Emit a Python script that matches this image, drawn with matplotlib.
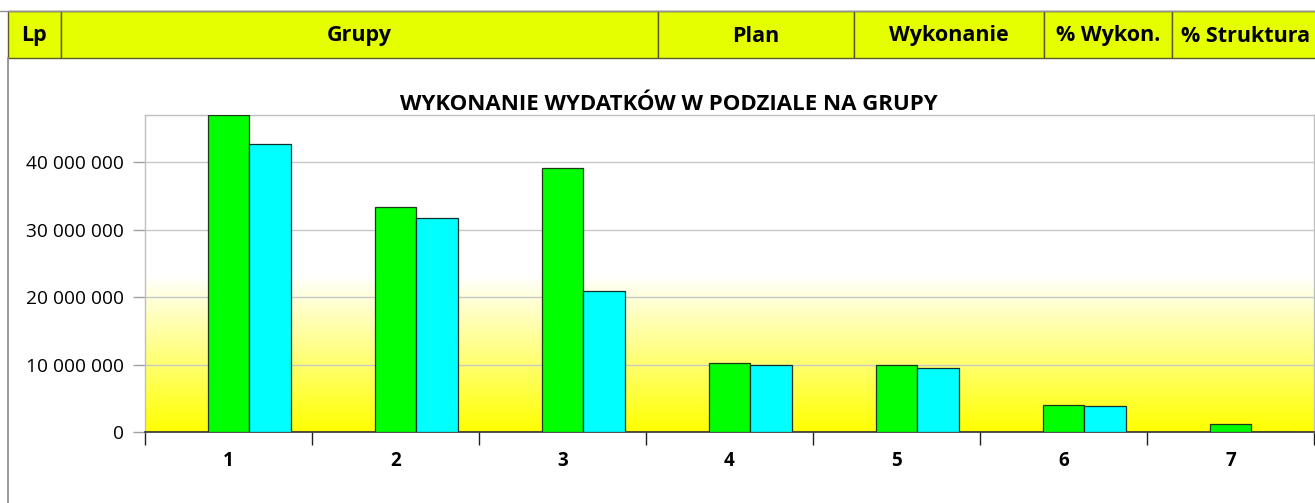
import matplotlib
matplotlib.use("Agg")
import matplotlib.pyplot as plt
import numpy as np
from matplotlib.patches import Rectangle
from matplotlib.lines import Line2D
from matplotlib.ticker import FuncFormatter, FixedLocator

# ---- data ----
categories = ["1", "2", "3", "4", "5", "6", "7"]
plan = [47.0e6, 33.4e6, 39.2e6, 10.2e6, 9.9e6, 4.0e6, 1.2e6]
wykonanie = [42.7e6, 31.75e6, 20.9e6, 9.9e6, 9.5e6, 3.9e6, 0.05e6]
header_labels = ["Lp", "Grupy", "Plan", "Wykonanie", "% Wykon.", "% Struktura"]
title = "WYKONANIE WYDATKÓW W PODZIALE NA GRUPY"

W, H = 1315, 503
FONT = ["Open Sans", "DejaVu Sans"]
plt.rcParams['font.family'] = FONT

fig = plt.figure(figsize=(W / 100, H / 100), dpi=100)
fig.patch.set_facecolor("white")

def fx(x):
    return x / W

def fy(y):
    return 1 - y / H

# ---- header table ----
col_edges = [8, 61, 658, 854, 1044, 1172, 1330]
text_x = [34, 359, 756, 949, 1108, 1246]
top, bot = 11, 58
hdr_fill = "#e6ff00"
hdr_edge = "#5a5a28"
for i, lab in enumerate(header_labels):
    x0, x1 = col_edges[i], col_edges[i + 1]
    fig.patches.append(Rectangle((fx(x0), fy(bot)), fx(x1 - x0), (bot - top) / H,
                                 transform=fig.transFigure, facecolor=hdr_fill,
                                 edgecolor=hdr_edge, linewidth=1.0, zorder=1))
    fig.text(fx(text_x[i]), fy(36), lab, ha="center", va="center", fontsize=15.5,
             fontweight="bold", color="black")
# outer top gray line
fig.lines.append(Line2D([fx(0), fx(W)], [fy(10.5), fy(10.5)], transform=fig.transFigure,
                        color="#909090", linewidth=1.0))
# chart area left border
fig.lines.append(Line2D([fx(8), fx(8)], [fy(58), fy(503)], transform=fig.transFigure,
                        color="#8a8a8a", linewidth=1.2))

# ---- chart ----
left, right, ybot, ytop = 145, 1314, 432, 115
ax = fig.add_axes([fx(left), fy(ybot), fx(right - left), (ybot - ytop) / H])
ymax = 47.05e6
x = np.arange(len(categories))
ax.set_xlim(-0.5, len(categories) - 0.5)
ax.set_ylim(0, ymax)
ax.set_facecolor("white")

# gradient: yellow at bottom fading to white
grad_top = 23.3e6
n = 256
t = np.linspace(0, 1, n)[:, None]
img = np.zeros((n, 1, 3))
img[..., 0] = 1.0
img[..., 1] = 1.0
img[..., 2] = t
ax.imshow(img, origin="lower", aspect="auto", extent=[-0.5, len(categories) - 0.5, 0, grad_top],
          zorder=0, interpolation="bilinear")

bw = 0.25
ax.bar(x, plan, width=bw, color="#00ff00", edgecolor="#1a3a1a", linewidth=0.9, zorder=3)
ax.bar(x + bw, wykonanie, width=bw, color="#00ffff", edgecolor="#103030", linewidth=0.9, zorder=3)

ax.yaxis.set_major_locator(FixedLocator([0, 10e6, 20e6, 30e6, 40e6]))
ax.yaxis.set_major_formatter(FuncFormatter(lambda v, p: f"{int(round(v)):,}".replace(",", " ")))
ax.grid(axis="y", color="#c8c8c8", linewidth=1.0, zorder=1)
ax.set_axisbelow(True)

ax.set_xticks(x)
ax.set_xticklabels(categories, fontweight="bold", fontsize=13.5)
ax.set_xticks(np.arange(-0.5, len(categories) + 0.5, 1), minor=True)
ax.tick_params(axis="x", which="major", length=0, pad=14)
ax.tick_params(axis="x", which="minor", length=9, width=1, color="#202020", direction="out")
ax.tick_params(axis="y", length=9, width=1, color="#a0a0a0", labelsize=13.8, pad=6)

for s in ["left", "top", "right"]:
    ax.spines[s].set_color("#c0c0c0")
    ax.spines[s].set_linewidth(1.0)
ax.spines["bottom"].set_color("#303030")
ax.spines["bottom"].set_linewidth(1.2)

fig.text(fx(669), fy(104), title, ha="center", va="center", fontsize=16,
         fontweight="bold", color="black")

fig.savefig("out.png", dpi=100)
